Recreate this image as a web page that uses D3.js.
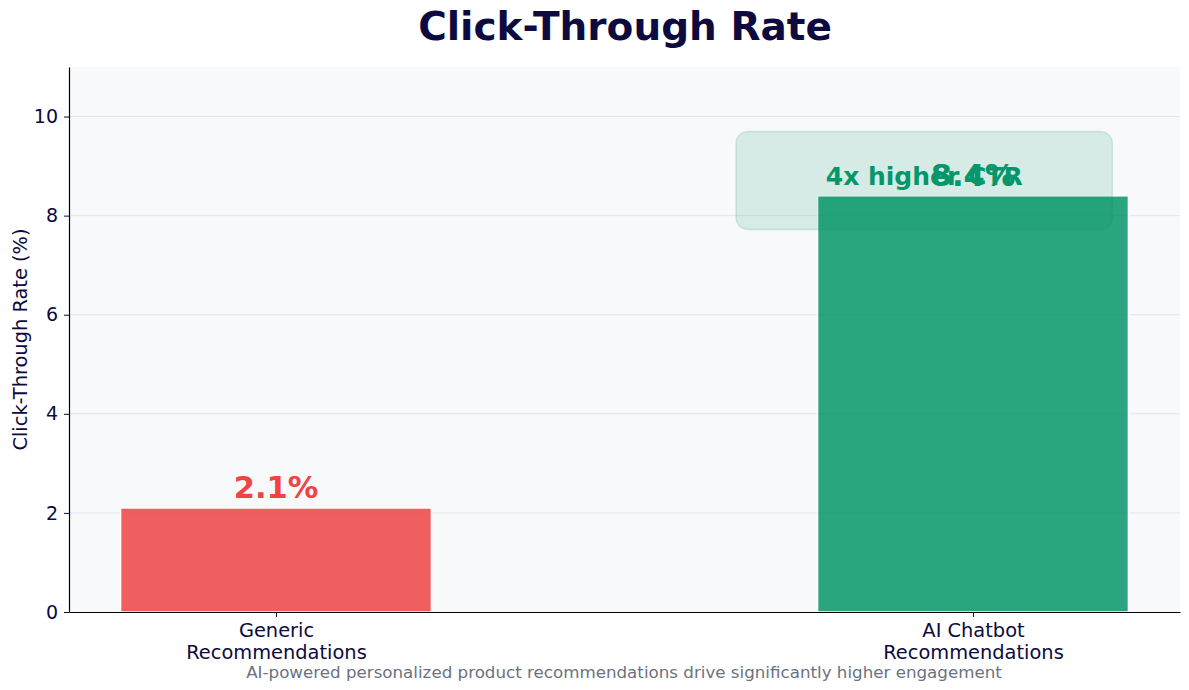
<!DOCTYPE html>
<html>
<head>
<meta charset="utf-8">
<script src="https://cdn.jsdelivr.net/npm/d3@7"></script>
<style>
  body { margin: 0; background: #fff; }
  text { font-family: "DejaVu Sans", sans-serif; }
</style>
</head>
<body>
<svg id="chart" width="1189" height="690"></svg>
<script>
// chart data
var categories = ["Generic\nRecommendations", "AI Chatbot\nRecommendations"];
var ctrValues = [2.1, 8.4];
var valueLabels = ["2.1%", "8.4%"];
var barColors = ["#ef4444", "#059669"];
var yTicks = [0, 2, 4, 6, 8, 10];
var annotationText = "4x higher CTR";

var width = 1189, height = 690;
var margin = { top: 67, right: 9, bottom: 78, left: 69 };
var plotW = width - margin.left - margin.right;
var plotH = height - margin.top - margin.bottom;
var ink = "#0c0a3e";

var svg = d3.select("#chart");

// x is a numeric position scale, so bars sit at 0 and 1 like the original
var x = d3.scaleLinear().domain([-0.297, 1.297]).range([0, plotW]);
var y = d3.scaleLinear().domain([0, 11]).range([plotH, 0]);
var barWidth = 0.446;

var g = svg.append("g")
    .attr("transform", "translate(" + margin.left + "," + margin.top + ")");

g.append("rect")
    .attr("width", plotW)
    .attr("height", plotH)
    .attr("fill", "#f8f9fb");

// horizontal grid
g.selectAll(".grid")
    .data(yTicks.slice(1))
  .enter().append("line")
    .attr("class", "grid")
    .attr("x1", 0)
    .attr("x2", plotW)
    .attr("y1", function(d) { return y(d); })
    .attr("y2", function(d) { return y(d); })
    .attr("stroke", "#e3e5ea")
    .attr("stroke-width", 1);

// bars
g.selectAll(".bar")
    .data(ctrValues)
  .enter().append("rect")
    .attr("class", "bar")
    .attr("x", function(d, i) { return x(i - barWidth / 2); })
    .attr("width", x(barWidth) - x(0))
    .attr("y", function(d) { return y(d); })
    .attr("height", function(d) { return plotH - y(d); })
    .attr("fill", function(d, i) { return barColors[i]; })
    .attr("fill-opacity", 0.85)
    .attr("stroke", "#fff")
    .attr("stroke-width", 1.5);

// annotation box around the callout (data coords)
var boxX0 = x(0.66), boxX1 = x(1.2);
var boxY0 = y(9.7), boxY1 = y(7.72);
g.append("rect")
    .attr("x", boxX0)
    .attr("y", boxY0)
    .attr("width", boxX1 - boxX0)
    .attr("height", boxY1 - boxY0)
    .attr("rx", 12)
    .attr("ry", 12)
    .attr("fill", "#059669")
    .attr("fill-opacity", 0.14)
    .attr("stroke", "#059669")
    .attr("stroke-opacity", 0.15)
    .attr("stroke-width", 1.5);

g.append("text")
    .attr("x", (boxX0 + boxX1) / 2)
    .attr("y", y(8.62))
    .attr("text-anchor", "middle")
    .attr("font-size", 25)
    .attr("font-weight", "bold")
    .attr("fill", "#059669")
    .text(annotationText);

// value labels
g.selectAll(".val")
    .data(ctrValues)
  .enter().append("text")
    .attr("class", "val")
    .attr("x", function(d, i) { return x(i); })
    .attr("y", function(d) { return y(d) - 10; })
    .attr("text-anchor", "middle")
    .attr("font-size", 30.5)
    .attr("font-weight", "bold")
    .attr("fill", function(d, i) { return barColors[i]; })
    .text(function(d, i) { return valueLabels[i]; });

// y axis
var yAxis = g.append("g")
    .call(d3.axisLeft(y).tickValues(yTicks).tickSize(5).tickSizeOuter(0).tickPadding(6));
yAxis.select(".domain").attr("stroke", "#000").attr("stroke-width", 1.2);
yAxis.selectAll(".tick line").attr("stroke", ink);
yAxis.selectAll(".tick text")
    .attr("font-size", 19)
    .attr("font-family", "DejaVu Sans")
    .attr("fill", ink);

// x axis (ticks at bar centres only)
var xAxis = g.append("g")
    .attr("transform", "translate(0," + plotH + ")")
    .call(d3.axisBottom(x).tickValues([0, 1]).tickSize(5).tickSizeOuter(0).tickFormat(""));
xAxis.select(".domain").attr("stroke", "#000").attr("stroke-width", 1.2);
xAxis.selectAll(".tick line").attr("stroke", ink);

xAxis.selectAll(".tick").each(function(d) {
  var lines = categories[d].split("\n");
  var t = d3.select(this).append("text")
      .attr("text-anchor", "middle")
      .attr("font-size", 19.4)
      .attr("fill", ink);
  lines.forEach(function(line, k) {
    t.append("tspan")
        .attr("x", 0)
        .attr("y", 25 + k * 21.5)
        .text(line);
  });
});

// y axis label
svg.append("text")
    .attr("transform", "translate(27," + (margin.top + plotH / 2) + ") rotate(-90)")
    .attr("text-anchor", "middle")
    .attr("font-size", 19.4)
    .attr("fill", ink)
    .text("Click-Through Rate (%)");

// title + subtitle
svg.append("text")
    .attr("x", 625)
    .attr("y", 40)
    .attr("text-anchor", "middle")
    .attr("font-size", 39)
    .attr("font-weight", "bold")
    .attr("fill", ink)
    .text("Click-Through Rate");

svg.append("text")
    .attr("x", 624)
    .attr("y", 678)
    .attr("text-anchor", "middle")
    .attr("font-size", 16.7)
    .attr("fill", "#6b7280")
    .text("AI-powered personalized product recommendations drive significantly higher engagement");
</script>
</body>
</html>
